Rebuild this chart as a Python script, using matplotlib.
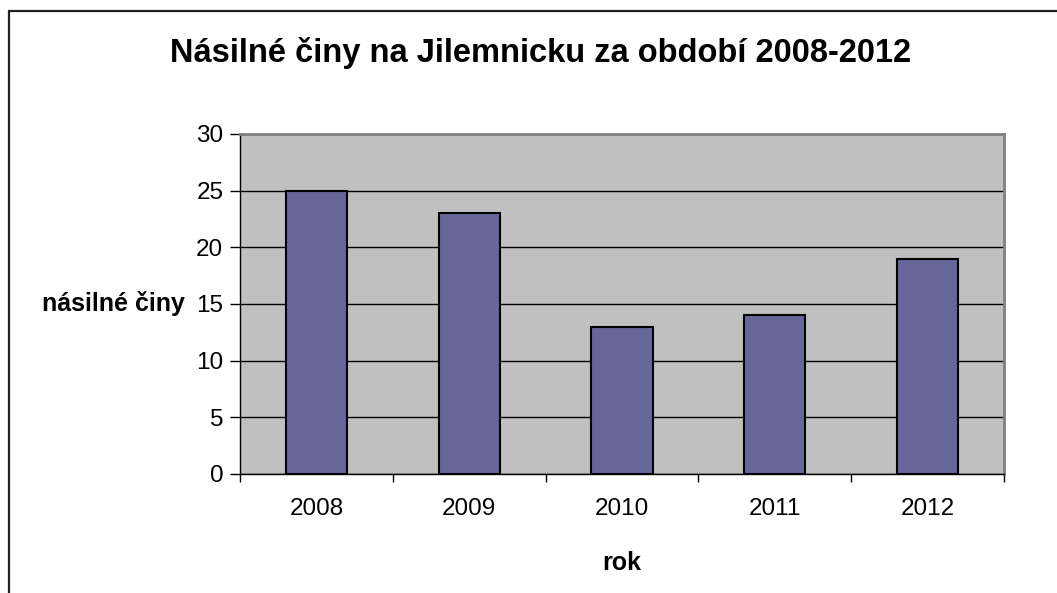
import matplotlib
matplotlib.use("Agg")
import matplotlib.pyplot as plt
from matplotlib.patches import Rectangle

years = ["2008", "2009", "2010", "2011", "2012"]
counts = [25, 23, 13, 14, 19]
y_ticks = [0, 5, 10, 15, 20, 25, 30]

plt.rcParams["font.family"] = ["Liberation Sans", "DejaVu Sans"]

fig = plt.figure(figsize=(10.57, 5.93), dpi=100, facecolor="white")
ax = fig.add_axes([240 / 1057, 1 - 474 / 593, 764 / 1057, 340 / 593])
ax.set_facecolor("#C0C0C0")

# outer chart frame (only top and left visible in the original)
fig.patches.append(Rectangle((9 / 1057, -0.1), 1.2, 1 - 11 / 593 + 0.1,
                             transform=fig.transFigure, fill=False,
                             edgecolor="#222222", linewidth=1.6))

x = range(len(years))
ax.bar(x, counts, width=0.4, color="#666699", edgecolor="black",
       linewidth=1.5, zorder=3)

ax.set_xlim(-0.5, len(years) - 0.5)
ax.set_ylim(0, 30)
ax.set_yticks(y_ticks)
ax.set_xticks(list(x))
ax.set_xticklabels(years)
ax.set_xticks([i - 0.5 for i in range(len(years) + 1)], minor=True)
ax.tick_params(axis="x", which="major", length=0, pad=17, labelsize=17.5)
ax.tick_params(axis="x", which="minor", length=6, width=1, direction="out")
ax.tick_params(axis="y", length=7, width=1, direction="out", pad=5, labelsize=17.5)

ax.grid(axis="y", color="black", linewidth=1, zorder=1)
ax.set_axisbelow(True)

for side in ("top", "right"):
    ax.spines[side].set_color("#808080")
    ax.spines[side].set_linewidth(2)
for side in ("left", "bottom"):
    ax.spines[side].set_color("black")
    ax.spines[side].set_linewidth(1)

ax.set_ylabel("násilné činy", rotation=0, fontsize=18, fontweight="bold",
              ha="right", va="center")
ax.yaxis.set_label_coords(-0.072, 0.5)
ax.set_xlabel("rok", fontsize=18, fontweight="bold")
ax.xaxis.set_label_coords(0.5, -0.225)

fig.text(541 / 1057, 1 - 53 / 593, "Násilné činy na Jilemnicku za období 2008-2012",
         ha="center", va="center", fontsize=23.5, fontweight="bold")

fig.savefig("out.png", dpi=100, facecolor="white")
